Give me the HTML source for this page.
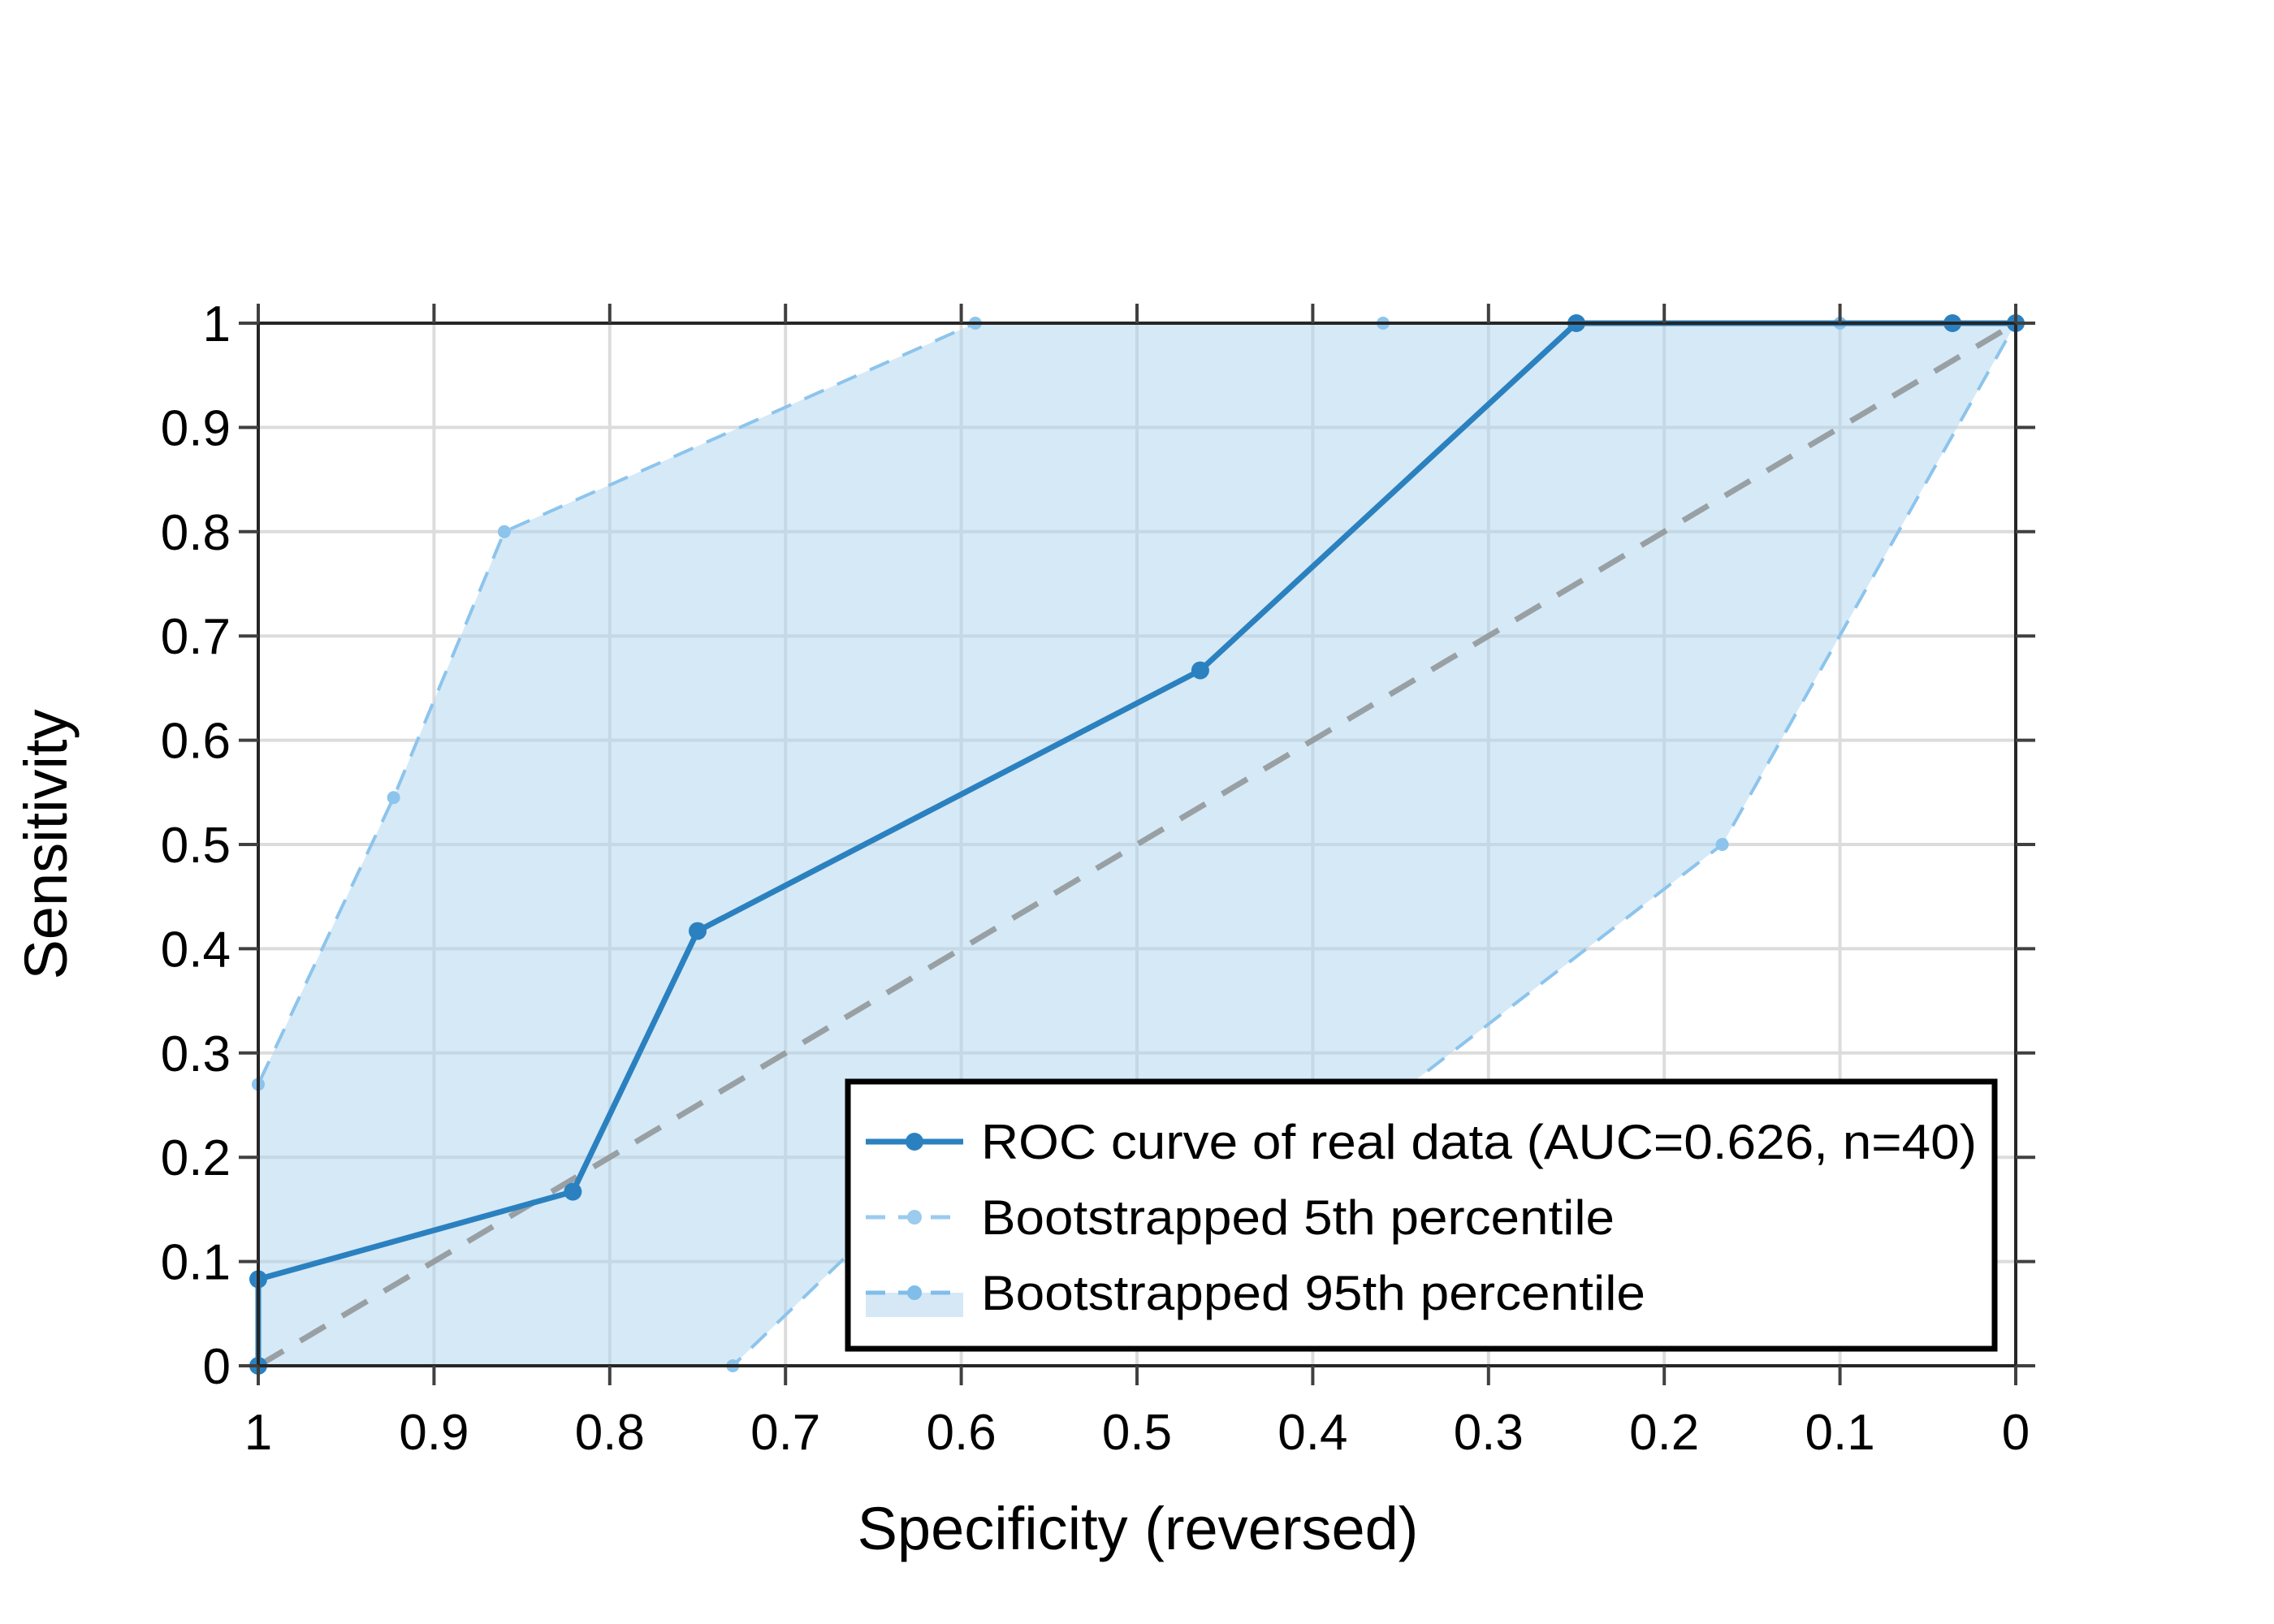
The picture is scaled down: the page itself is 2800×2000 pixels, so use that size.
<!DOCTYPE html>
<html><head><meta charset="utf-8"><style>
html,body{margin:0;padding:0;background:#fff;}
svg{display:block;font-family:"Liberation Sans",sans-serif;}
</style></head><body>
<svg id="chart" width="2800" height="2000" viewBox="0 0 2800 2000">
<rect x="0" y="0" width="2800" height="2000" fill="#fff"/>
<g id="grid"></g>
<g id="band"></g>
<g id="series"></g>
<g id="axes"></g>
<text x="1401" y="1908" font-size="74" text-anchor="middle" fill="#000">Specificity (reversed)</text>
<text transform="translate(82,1040) rotate(-90)" font-size="74" text-anchor="middle" fill="#000">Sensitivity</text>
<g>
<rect x="1044" y="1332" width="1412" height="329" fill="#fff" stroke="#000" stroke-width="7"/>
<g>
<line x1="1066" y1="1406" x2="1186" y2="1406" stroke="#2b81bf" stroke-width="7"/>
<circle cx="1126" cy="1406" r="11" fill="#2b81bf"/>
<text x="1208" y="1427" font-size="60" textLength="1226" lengthAdjust="spacingAndGlyphs" fill="#000">ROC curve of real data (AUC=0.626, n=40)</text>
</g>
<g>
<line x1="1066" y1="1499" x2="1180" y2="1499" stroke="#9ccbee" stroke-width="5" stroke-dasharray="24,16"/>
<circle cx="1126" cy="1499" r="9" fill="#9ccbee"/>
<text x="1208" y="1520" font-size="60" textLength="780" lengthAdjust="spacingAndGlyphs" fill="#000">Bootstrapped 5th percentile</text>
</g>
<g>
<rect x="1066" y="1592" width="120" height="30" fill="#d6e8f6"/>
<line x1="1066" y1="1592" x2="1180" y2="1592" stroke="#80bde9" stroke-width="5" stroke-dasharray="24,16"/>
<circle cx="1126" cy="1592" r="9" fill="#80bde9"/>
<text x="1208" y="1613" font-size="60" textLength="818" lengthAdjust="spacingAndGlyphs" fill="#000">Bootstrapped 95th percentile</text>
</g>
</g>
</svg>
<script>
const ticks = [0,0.1,0.2,0.3,0.4,0.5,0.6,0.7,0.8,0.9,1];
const tickLabels = ["0","0.1","0.2","0.3","0.4","0.5","0.6","0.7","0.8","0.9","1"];
const rocSpec = [1,1,0.821,0.75,0.464,0.25,0.036,0];
const rocSens = [0,0.083,0.167,0.417,0.667,1,1,1];
const upSpec = [1,1,0.923,0.86,0.592,0.36,0.1,0];
const upSens = [0,0.27,0.545,0.8,1,1,1,1];
const loSpec = [1,0.73,0.65,0.36,0.167,0];
const loSens = [0,0,0.13,0.25,0.5,1];

const L=318,R=2482,T=398,B=1682;
const NS='http://www.w3.org/2000/svg';
function sx(v){return L+(1-v)*(R-L);}
function sy(v){return B-v*(B-T);}
function mk(tag,attrs,parent){const e=document.createElementNS(NS,tag);for(const k in attrs)e.setAttribute(k,attrs[k]);parent.appendChild(e);return e;}
const grid=document.getElementById('grid'),band=document.getElementById('band'),series=document.getElementById('series'),axes=document.getElementById('axes');

ticks.forEach((t,i)=>{
  const gx=mk('line',{x1:sx(t),x2:sx(t),y1:T,y2:B,stroke:'#dcdcdc','stroke-width':4},grid);
  
  
  const gy=mk('line',{x1:L,x2:R,y1:sy(t),y2:sy(t),stroke:'#dcdcdc','stroke-width':4},grid);
  
  
});

let pts=[];
upSpec.forEach((s,i)=>pts.push(sx(s)+','+sy(upSens[i])));
for(let i=loSpec.length-1;i>=0;i--)pts.push(sx(loSpec[i])+','+sy(loSens[i]));
const poly=mk('polygon',{points:pts.join(' '),fill:'#aed3ef','fill-opacity':0.5},band);



function line(xs,ys,color,w,dash,r,name){
  const p=mk('polyline',{points:xs.map((s,i)=>sx(s)+','+sy(ys[i])).join(' '),fill:'none',stroke:color,'stroke-width':w,'stroke-linejoin':'round'},series);
  if(dash)p.setAttribute('stroke-dasharray',dash);
  
  
  xs.forEach((s,i)=>{
    const c=mk('circle',{cx:sx(s),cy:sy(ys[i]),r:r,fill:color},series);
    
    
  });
}
const diag=mk('line',{x1:sx(1),y1:sy(0),x2:sx(0),y2:sy(1),stroke:'#8f9496','stroke-width':7,'stroke-dasharray':'36,24','opacity':0.85},series);


line(upSpec,upSens,'#8cc4ec',4,'26,18',8,'upper-95th');
line(loSpec,loSens,'#8cc4ec',4,'26,18',8,'lower-5th');
line(rocSpec,rocSens,'#2b81bf',7,null,11,'roc-curve');

const fr=mk('rect',{x:L,y:T,width:R-L,height:B-T,fill:'none',stroke:'#262626','stroke-width':4},axes);


ticks.forEach((t,i)=>{
  const x=sx(t),y=sy(t);
  [[x,B,x,B+24],[x,T,x,T-24],[L-24,y,L,y],[R,y,R+24,y]].forEach(c=>{
    const tk=mk('line',{x1:c[0],y1:c[1],x2:c[2],y2:c[3],stroke:'#404040','stroke-width':4},axes);
    
    
  });
  const xl=mk('text',{x:x,y:1785,'font-size':62,'text-anchor':'middle',fill:'#000'},axes);
  xl.textContent=tickLabels[i];
  
  
  const yl=mk('text',{x:284,y:y+22,'font-size':62,'text-anchor':'end',fill:'#000'},axes);
  yl.textContent=tickLabels[i];
  
  
});
</script>
</body></html>
